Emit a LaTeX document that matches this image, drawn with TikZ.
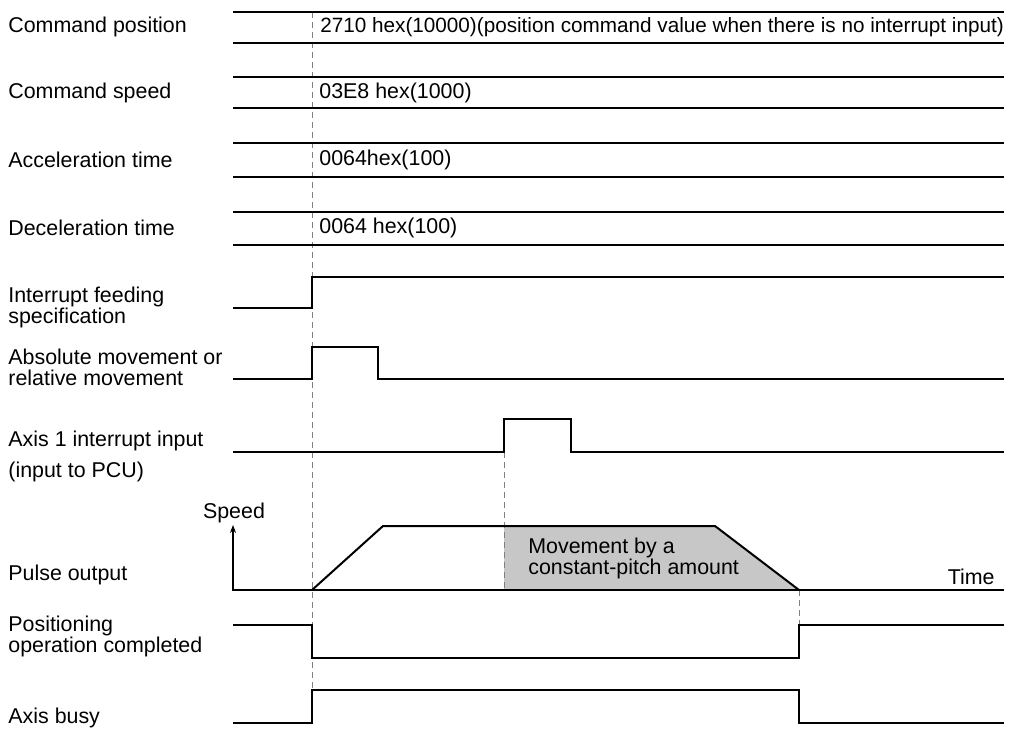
\documentclass[tikz,border=0pt]{standalone}
\usepackage{fontspec}
\setmainfont{Liberation Sans}
\usetikzlibrary{arrows.meta}
\begin{document}
\begin{tikzpicture}[x=0.5pt,y=-0.5pt,
  sig/.style={line width=1pt,line join=miter},
  thin/.style={line width=0.55pt},
  guide/.style={dashed,draw=gray,line width=0.5pt,dash pattern=on 3pt off 2pt},
  lbl/.style={anchor=west,inner sep=0pt,align=left,font=\fontsize{10.7}{10.5}\selectfont},
  val/.style={anchor=west,inner sep=0pt,font=\fontsize{10.7}{10.5}\selectfont}]
\useasboundingbox (0,0) rectangle (1014,729);
% gray area
\fill[fill=black!22] (504,526) -- (715,526) -- (799,590) -- (504,590) -- cycle;
% guides
\draw[guide] (312,12) -- (312,690);
\draw[guide] (504,452) -- (504,590);
\draw[guide] (799,590) -- (799,625);
% labels
\node[lbl] (l1) at (8,27) {Command position};
\node[lbl] (l2) at (8,93) {Command speed};
\node[lbl] (l3) at (8,160) {Acceleration time};
\node[lbl] (l4) at (8,228) {Deceleration time};
\node[lbl] (l5) at (8,307) {Interrupt feeding\\specification};
\node[lbl] (l6) at (8,367) {Absolute movement or\\relative movement};
\node[lbl] (l7) at (8,441) {Axis 1 interrupt input};
\node[lbl] (l8) at (8,472) {(input to PCU)};
\node[lbl] (l9) at (8,575) {Pulse output};
\node[lbl] (l10) at (8,636) {Positioning\\operation completed};
\node[lbl] (l11) at (8,718) {Axis busy};
% value bars
\draw[sig] (233,12) -- (1004,12) (233,43) -- (1004,43);
\draw[sig] (233,77) -- (1004,77) (233,108) -- (1004,108);
\draw[sig] (233,143) -- (1004,143) (233,177) -- (1004,177);
\draw[sig] (233,212) -- (1004,212) (233,245) -- (1004,245);
\node[val,font=\fontsize{10.35}{10.5}\selectfont] (v1) at (320,27) {2710 hex(10000)(position command value when there is no interrupt input)};
\node[val] (v2) at (319,93) {03E8 hex(1000)};
\node[val] (v3) at (319,160) {0064hex(100)};
\node[val] (v4) at (319,228) {0064 hex(100)};
% signals
\draw[sig] (233,308) -- (312,308) -- (312,277) -- (1004,277);
\draw[sig] (233,379) -- (312,379) -- (312,347) -- (378,347) -- (378,379) -- (1004,379);
\draw[sig] (233,452) -- (504,452) -- (504,419) -- (571,419) -- (571,452) -- (1004,452);
% pulse output
\draw[thin,-{Stealth[length=4pt,width=3pt]}] (1004,590) -- (233,590) -- (233,525);
\node[val,anchor=center] (sp) at (234,513) {Speed};
\node[val,anchor=east] (tm) at (995,577) {Time};
\draw[sig] (312,590) -- (383,526) -- (715,526) -- (799,590);
\node[lbl] (mv) at (528,558) {Movement by a\\constant-pitch amount};
% completion and busy
\draw[sig] (233,625) -- (312,625) -- (312,658) -- (799,658) -- (799,625) -- (1004,625);
\draw[sig] (233,723) -- (312,723) -- (312,690) -- (799,690) -- (799,723) -- (1004,723);
\end{tikzpicture}
\end{document}
